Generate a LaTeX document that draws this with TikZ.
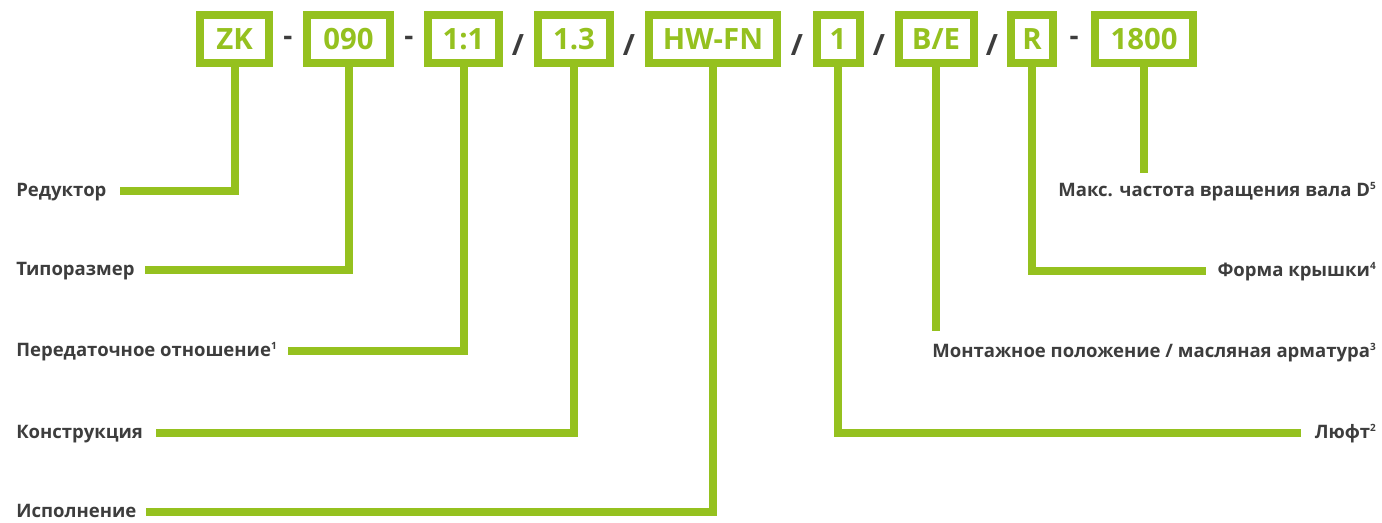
\documentclass[tikz,border=0pt]{standalone}
\usepackage{fontspec}
\setmainfont{Open Sans}
\definecolor{grn}{RGB}{149,193,31}
\definecolor{txt}{RGB}{61,61,61}
\newcommand{\supnum}[1]{\raisebox{0.42em}{\fontsize{7.5}{8}\selectfont #1}}
\begin{document}
\begin{tikzpicture}[x=0.75pt,y=-0.75pt,
  code/.style={draw=grn, line width=6pt, fill=white, minimum height=36pt, inner sep=0pt,
    text=grn, font=\bfseries\fontsize{22}{24}\selectfont},
  dsep/.style={text=txt, inner sep=0pt, font=\bfseries\fontsize{21}{22}\selectfont},
  ssep/.style={text=txt, inner sep=0pt, font=\bfseries\fontsize{22}{24}\selectfont},
  lbl/.style={text=txt, inner sep=0pt, font=\bfseries\fontsize{13.9}{16}\selectfont},
  conn/.style={draw=grn, line width=6pt}]
\useasboundingbox[fill=white] (0,0) rectangle (1382,523);

% code boxes
\node[code, minimum width=51.75pt] (zk)   at (234.5,39) {ZK};
\node[code, minimum width=62.25pt] (size) at (348.5,39) {090};
\node[code, minimum width=53.25pt] (rat)  at (463.5,39) {1:1};
\node[code, minimum width=54pt]    (cons) at (574,39)   {1.3};
\node[code, minimum width=96pt]    (exe)  at (713,39)   {HW-FN};
\node[code, minimum width=32.25pt] (play) at (838,39)   {1};
\node[code, minimum width=56.25pt] (mnt)  at (936,39)   {B/E};
\node[code, minimum width=31.5pt]  (cov)  at (1032,39)  {R};
\node[code, minimum width=73.5pt]  (spd)  at (1144,39)  {1800};

% separators
\node[dsep] (s1) at (288,41) {-};
\node[dsep] (s2) at (409,41) {-};
\node[ssep] (s3) at (518,45) {/};
\node[ssep] (s4) at (629,45) {/};
\node[ssep] (s5) at (797,45) {/};
\node[ssep] (s6) at (879,45) {/};
\node[ssep] (s7) at (992,45) {/};
\node[dsep] (s8) at (1074,41) {-};

% left labels
\node[lbl, anchor=base west] (l1) at (16,197) {Редуктор};
\node[lbl, anchor=base west] (l2) at (16,276) {Типоразмер};
\node[lbl, anchor=base west] (l3) at (16,357) {Передаточное отношение\supnum{1}};
\node[lbl, anchor=base west] (l4) at (16,439) {Конструкция};
\node[lbl, anchor=base west] (l5) at (16,518) {Исполнение};

% right labels
\node[lbl, anchor=base east] (r1) at (1376,197) {Макс. частота вращения вала D\supnum{5}};
\node[lbl, anchor=base east] (r2) at (1376,277) {Форма крышки\supnum{4}};
\node[lbl, anchor=base east] (r3) at (1376,358) {Монтажное положение / масляная арматура\supnum{3}};
\node[lbl, anchor=base east] (r4) at (1376,439) {Люфт\supnum{2}};

% free ends
\coordinate (e1) at (120,191);
\coordinate (e2) at (145,270);
\coordinate (e3) at (288,351);
\coordinate (e4) at (156,433);
\coordinate (e5) at (146,512);
\coordinate (e6) at (1301,433);
\coordinate (e7) at (936,331);
\coordinate (e8) at (1206,271);
\coordinate (e9) at (1144,173);

% connectors
\draw[conn] (zk.south)   |- (e1);
\draw[conn] (size.south) |- (e2);
\draw[conn] (rat.south)  |- (e3);
\draw[conn] (cons.south) |- (e4);
\draw[conn] (exe.south)  |- (e5);
\draw[conn] (play.south) |- (e6);
\draw[conn] (mnt.south)  -- (e7);
\draw[conn] (cov.south)  |- (e8);
\draw[conn] (spd.south)  -- (e9);
\end{tikzpicture}
\end{document}
